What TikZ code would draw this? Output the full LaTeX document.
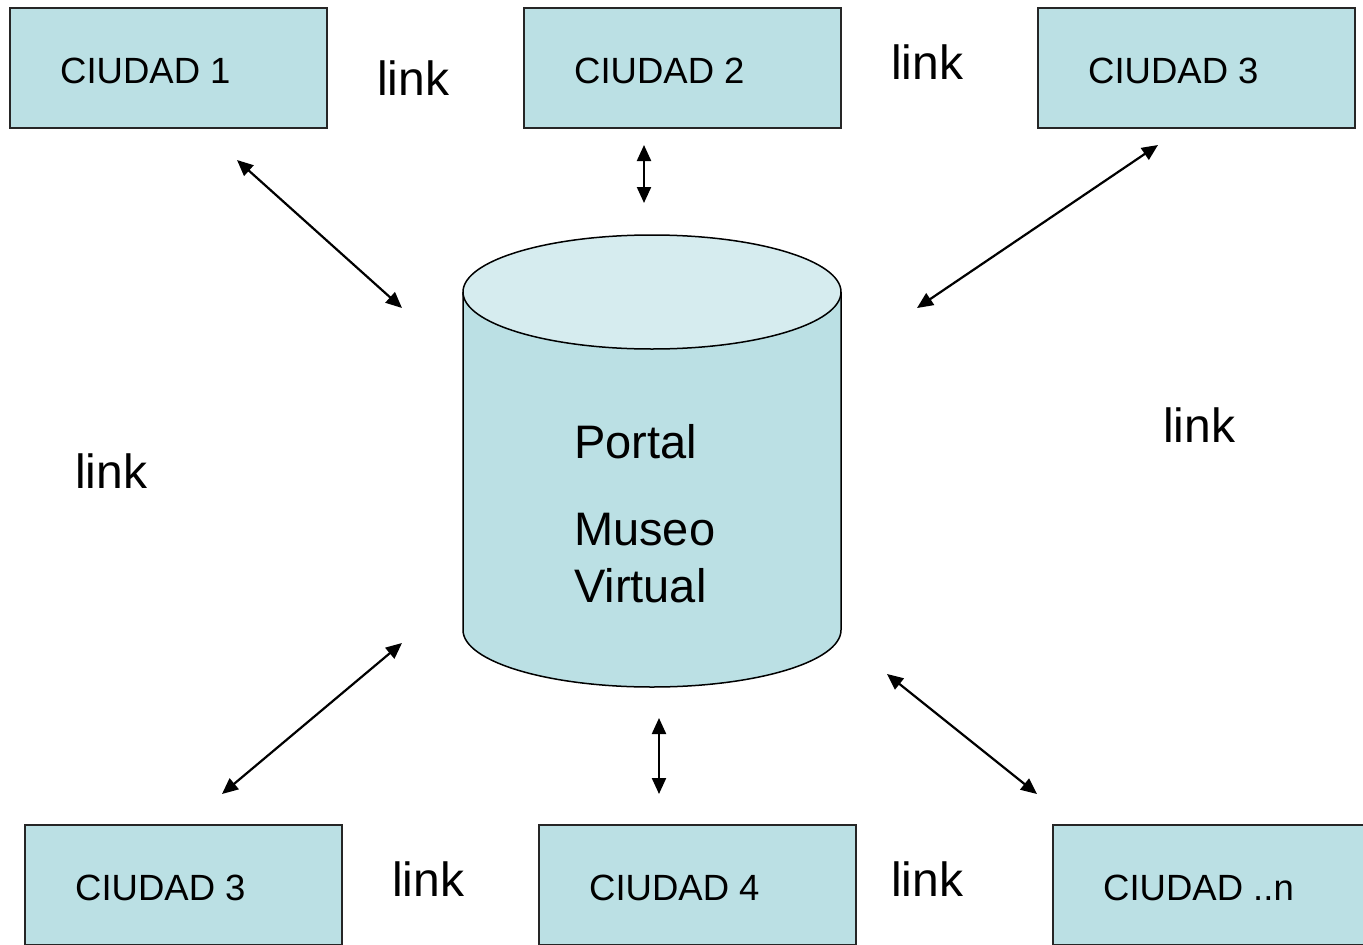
\documentclass[tikz,border=0pt]{standalone}
\usepackage{fontspec}
\setmainfont{Liberation Sans}
\usetikzlibrary{arrows.meta}
\definecolor{boxfill}{RGB}{187,224,228}
\definecolor{topfill}{RGB}{214,236,239}
\tikzset{
  citybox/.style={draw=black!85, line width=1.5pt, fill=boxfill, rectangle, minimum width=317pt, minimum height=120pt, inner sep=0pt},
  citytxt/.style={anchor=base west, inner sep=0pt, font=\fontsize{36.5}{44}\selectfont},
  linktxt/.style={anchor=base west, inner sep=0pt, font=\fontsize{48}{58}\selectfont},
  portaltxt/.style={anchor=base west, inner sep=0pt, font=\fontsize{47}{56}\selectfont},
  link/.style={line width=2.2pt, {Triangle[length=16pt,width=14pt]}-{Triangle[length=16pt,width=14pt]}},
  cyl/.style={draw=black, line width=1.5pt}
}
\begin{document}
\begin{tikzpicture}[x=1pt,y=-1pt]
\useasboundingbox (0,0) rectangle (1363,945);
% boxes
\node[citybox] (c1) at (168.5,68) {};
\node[citybox] (c2) at (682.5,68) {};
\node[citybox] (c3) at (1196.5,68) {};
\node[citybox] (c3b) at (183.5,885) {};
\node[citybox] (c4) at (697.5,885) {};
\node[citybox] (cn) at (1211.5,885) {};
\node[citytxt] (t1) at (60,83) {CIUDAD 1};
\node[citytxt] (t2) at (574,83) {CIUDAD 2};
\node[citytxt] (t3) at (1088,83) {CIUDAD 3};
\node[citytxt] (t3b) at (75,900) {CIUDAD 3};
\node[citytxt] (t4) at (589,900) {CIUDAD 4};
\node[citytxt] (tn) at (1103,900) {CIUDAD ..n};
% cylinder
\filldraw[cyl, fill=boxfill] (463,292) -- (463,630)
  .. controls (463,661.5) and (547.6,687) .. (652,687)
  .. controls (756.4,687) and (841,661.5) .. (841,630) -- (841,292);
\filldraw[cyl, fill=topfill] (652,292) ellipse [x radius=189, y radius=57];
\coordinate (portal) at (652,460);
\node[portaltxt] (p1) at (574,458) {Portal};
\node[portaltxt] (p2) at (574,545) {Museo};
\node[portaltxt] (p3) at (574,602) {Virtual};
% link labels
\node[linktxt] (l1) at (377,95) {link};
\node[linktxt] (l2) at (891,79) {link};
\node[linktxt] (l3) at (75,488) {link};
\node[linktxt] (l4) at (1163,442) {link};
\node[linktxt] (l5) at (392,896) {link};
\node[linktxt] (l6) at (891,896) {link};
% arrow end points
\coordinate (a1s) at (237,160); \coordinate (a1e) at (402,308);
\coordinate (a2s) at (644,145); \coordinate (a2e) at (644,203);
\coordinate (a3s) at (1158,145); \coordinate (a3e) at (917,308);
\coordinate (a4s) at (402,643); \coordinate (a4e) at (222,794);
\coordinate (a5s) at (659,718); \coordinate (a5e) at (659,794);
\coordinate (a6s) at (887,674); \coordinate (a6e) at (1037,794);
\draw[link] (a1s) -- (a1e);
\draw[link] (a2s) -- (a2e);
\draw[link] (a3s) -- (a3e);
\draw[link] (a4s) -- (a4e);
\draw[link] (a5s) -- (a5e);
\draw[link] (a6s) -- (a6e);
\end{tikzpicture}
\end{document}
